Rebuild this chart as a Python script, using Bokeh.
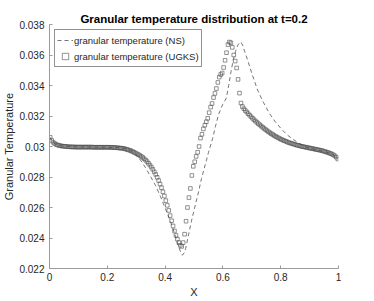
from bokeh.plotting import figure
from bokeh.models import Range1d, FixedTicker, CustomJSTickFormatter, Legend, LegendItem
from bokeh.embed import file_html
from bokeh.resources import INLINE

# ---- data ----
ugks_x = [
    0.0025, 0.0075, 0.0125, 0.0175, 0.0225, 0.0275, 0.0325, 0.0375, 0.0425, 0.0475,
    0.0525, 0.0575, 0.0625, 0.0675, 0.0725, 0.0775, 0.0825, 0.0875, 0.0925, 0.0975,
    0.1025, 0.1075, 0.1125, 0.1175, 0.1225, 0.1275, 0.1325, 0.1375, 0.1425, 0.1475,
    0.1525, 0.1575, 0.1625, 0.1675, 0.1725, 0.1775, 0.1825, 0.1875, 0.1925, 0.1975,
    0.2025, 0.2075, 0.2125, 0.2175, 0.2225, 0.2275, 0.2325, 0.2375, 0.2425, 0.2475,
    0.2525, 0.2575, 0.2625, 0.2675, 0.2725, 0.2775, 0.2825, 0.2875, 0.2925, 0.2975,
    0.3025, 0.3075, 0.3125, 0.3175, 0.3225, 0.3275, 0.3325, 0.3375, 0.3425, 0.3475,
    0.3525, 0.3575, 0.3625, 0.3675, 0.3725, 0.3775, 0.3825, 0.3875, 0.3925, 0.3975,
    0.4025, 0.4075, 0.4125, 0.4175, 0.4225, 0.4275, 0.4325, 0.4375, 0.4425, 0.4475,
    0.4525, 0.4575, 0.4625, 0.4675, 0.4725, 0.4775, 0.4825, 0.4875, 0.4925, 0.4975,
    0.5025, 0.5075, 0.5125, 0.5175, 0.5225, 0.5275, 0.5325, 0.5375, 0.5425, 0.5475,
    0.5525, 0.5575, 0.5625, 0.5675, 0.5725, 0.5775, 0.5825, 0.5875, 0.5925, 0.5975,
    0.6025, 0.6075, 0.6125, 0.6175, 0.6225, 0.6275, 0.6325, 0.6375, 0.6425, 0.6475,
    0.6525, 0.6575, 0.6625, 0.6675, 0.6725, 0.6775, 0.6825, 0.6875, 0.6925, 0.6975,
    0.7025, 0.7075, 0.7125, 0.7175, 0.7225, 0.7275, 0.7325, 0.7375, 0.7425, 0.7475,
    0.7525, 0.7575, 0.7625, 0.7675, 0.7725, 0.7775, 0.7825, 0.7875, 0.7925, 0.7975,
    0.8025, 0.8075, 0.8125, 0.8175, 0.8225, 0.8275, 0.8325, 0.8375, 0.8425, 0.8475,
    0.8525, 0.8575, 0.8625, 0.8675, 0.8725, 0.8775, 0.8825, 0.8875, 0.8925, 0.8975,
    0.9025, 0.9075, 0.9125, 0.9175, 0.9225, 0.9275, 0.9325, 0.9375, 0.9425, 0.9475,
    0.9525, 0.9575, 0.9625, 0.9675, 0.9725, 0.9775, 0.9825, 0.9875, 0.9925, 0.9975,
]
ugks_t = [
    0.03060, 0.03040, 0.03028, 0.03020, 0.03014, 0.03010, 0.03007, 0.03005, 0.03003, 0.03002,
    0.03001, 0.03000, 0.02999, 0.02998, 0.02998, 0.02997, 0.02997, 0.02997, 0.02996, 0.02996,
    0.02996, 0.02996, 0.02996, 0.02996, 0.02996, 0.02996, 0.02996, 0.02996, 0.02996, 0.02996,
    0.02995, 0.02995, 0.02995, 0.02995, 0.02995, 0.02995, 0.02995, 0.02995, 0.02995, 0.02995,
    0.02995, 0.02995, 0.02994, 0.02994, 0.02993, 0.02993, 0.02992, 0.02991, 0.02990, 0.02989,
    0.02988, 0.02986, 0.02984, 0.02981, 0.02978, 0.02975, 0.02971, 0.02967, 0.02962, 0.02957,
    0.02952, 0.02947, 0.02941, 0.02935, 0.02928, 0.02920, 0.02911, 0.02901, 0.02890, 0.02878,
    0.02865, 0.02850, 0.02834, 0.02817, 0.02798, 0.02777, 0.02754, 0.02730, 0.02703, 0.02675,
    0.02645, 0.02614, 0.02581, 0.02547, 0.02513, 0.02479, 0.02446, 0.02417, 0.02393, 0.02370,
    0.02352, 0.02345, 0.02370, 0.02425, 0.02510, 0.02600, 0.02665, 0.02725, 0.02810, 0.02870,
    0.02900, 0.02935, 0.02962, 0.03000, 0.03055, 0.03080, 0.03115, 0.03140, 0.03162, 0.03185,
    0.03222, 0.03258, 0.03282, 0.03321, 0.03348, 0.03380, 0.03420, 0.03455, 0.03472, 0.03482,
    0.03518, 0.03565, 0.03615, 0.03668, 0.03685, 0.03680, 0.03650, 0.03600, 0.03560, 0.03515,
    0.03440, 0.03350, 0.03285, 0.03262, 0.03248, 0.03236, 0.03226, 0.03215, 0.03205, 0.03195,
    0.03185, 0.03176, 0.03167, 0.03158, 0.03150, 0.03142, 0.03134, 0.03126, 0.03118, 0.03111,
    0.03104, 0.03097, 0.03090, 0.03084, 0.03078, 0.03072, 0.03066, 0.03061, 0.03056, 0.03051,
    0.03046, 0.03042, 0.03038, 0.03034, 0.03030, 0.03026, 0.03023, 0.03020, 0.03017, 0.03014,
    0.03011, 0.03008, 0.03006, 0.03003, 0.03001, 0.02999, 0.02997, 0.02995, 0.02993, 0.02991,
    0.02989, 0.02987, 0.02985, 0.02983, 0.02981, 0.02979, 0.02977, 0.02975, 0.02973, 0.02970,
    0.02967, 0.02964, 0.02961, 0.02958, 0.02954, 0.02950, 0.02945, 0.02938, 0.02930, 0.02918,
]

ns_x = [0.0, 0.01, 0.02, 0.04, 0.08, 0.15, 0.2, 0.24, 0.263, 0.28,
        0.298, 0.315, 0.332, 0.349, 0.367, 0.384, 0.401, 0.419, 0.436, 0.446,
        0.453, 0.46, 0.467, 0.471, 0.481, 0.491, 0.505, 0.516, 0.526, 0.54,
        0.55, 0.564, 0.574, 0.585, 0.599, 0.612, 0.62, 0.628, 0.636, 0.644,
        0.651, 0.657, 0.662, 0.668, 0.675, 0.685, 0.70, 0.72, 0.74, 0.76,
        0.78, 0.80, 0.82, 0.84, 0.86, 0.88, 0.90, 0.93, 0.96, 0.98, 1.0]
ns_t = [0.03065, 0.03032, 0.03016, 0.03004, 0.02998, 0.02996, 0.02995, 0.02992, 0.02986, 0.02974,
        0.02950, 0.02910, 0.02862, 0.02806, 0.02744, 0.02672, 0.02593, 0.02508, 0.02410, 0.02348,
        0.02312, 0.02287, 0.02305, 0.02330, 0.02420, 0.02510, 0.02620, 0.02705, 0.02790, 0.02889,
        0.02960, 0.03050, 0.03130, 0.03210, 0.03275, 0.03318, 0.03400, 0.03490, 0.03570, 0.03625,
        0.03662, 0.03680, 0.03685, 0.03665, 0.03625, 0.03570, 0.03480, 0.03370, 0.03290, 0.03220,
        0.03165, 0.03120, 0.03080, 0.03050, 0.03025, 0.03002, 0.02989, 0.02976, 0.02962, 0.02948, 0.02915]

x_ticks = [0, 0.2, 0.4, 0.6, 0.8, 1.0]
y_ticks = [0.022, 0.024, 0.026, 0.028, 0.030, 0.032, 0.034, 0.036, 0.038]

title_text = "Granular temperature distribution at t=0.2"
x_label = "X"
y_label = "Granular Temperature"
ns_name = "granular temperature (NS)"
ugks_name = "granular temperature (UGKS)"

FONT = "Liberation Sans"
AX = "#262626"

p = figure(width=374, height=301, output_backend="svg", toolbar_location=None,
           x_range=Range1d(0, 1), y_range=Range1d(0.022, 0.038),
           min_border_left=49, min_border_right=36, min_border_top=24, min_border_bottom=33)
p.background_fill_color = "white"
p.border_fill_color = "white"
p.outline_line_color = None
p.grid.visible = False

p.title.text = title_text
p.title.align = "center"
p.title.text_font = FONT
p.title.text_font_size = "11.5px"
p.title.text_font_style = "bold"
p.title.text_color = "black"
p.title.standoff = 0
p.title.offset = 0

fmt = CustomJSTickFormatter(code="return String(parseFloat(tick.toFixed(4)));")
for ax, ticks in ((p.xaxis[0], x_ticks), (p.yaxis[0], y_ticks)):
    ax.ticker = FixedTicker(ticks=ticks)
    ax.formatter = fmt
    ax.minor_tick_line_color = None
    ax.major_tick_in = 3
    ax.major_tick_out = 0
    ax.major_tick_line_color = "#9a9a9a"
    ax.axis_line_color = "#9a9a9a"
    ax.axis_line_width = 1
    ax.major_label_text_font = FONT
    ax.major_label_text_font_size = "10px"
    ax.major_label_text_color = AX
    ax.axis_label_text_font = FONT
    ax.axis_label_text_font_size = "11px"
    ax.axis_label_text_font_style = "normal"
    ax.axis_label_text_color = AX

p.xaxis.axis_label = x_label
p.yaxis.axis_label = y_label
p.xaxis.major_label_standoff = 4
p.yaxis.major_label_standoff = 5
p.xaxis.axis_label_standoff = 2
p.yaxis.axis_label_standoff = 1

r_ns = p.line(ns_x, ns_t, line_color="#505050", line_width=0.8, line_dash="4 3")
r_ug = p.scatter(ugks_x, ugks_t, marker="square", size=3.6, fill_color=None,
                 line_color="#4a4a4a", line_width=0.6)

legend = Legend(items=[LegendItem(label=ns_name, renderers=[r_ns]),
                       LegendItem(label=ugks_name, renderers=[r_ug])],
                location=(5, 201), padding=2, spacing=0,
                glyph_width=16, glyph_height=16, label_height=16,
                label_standoff=1, label_text_font=FONT, label_text_font_size="9.5px",
                label_text_color=AX, border_line_color=AX, border_line_width=0.7,
                background_fill_color="white", background_fill_alpha=1)
p.add_layout(legend, "center")

open("out.html", "w").write(file_html(p, INLINE))
